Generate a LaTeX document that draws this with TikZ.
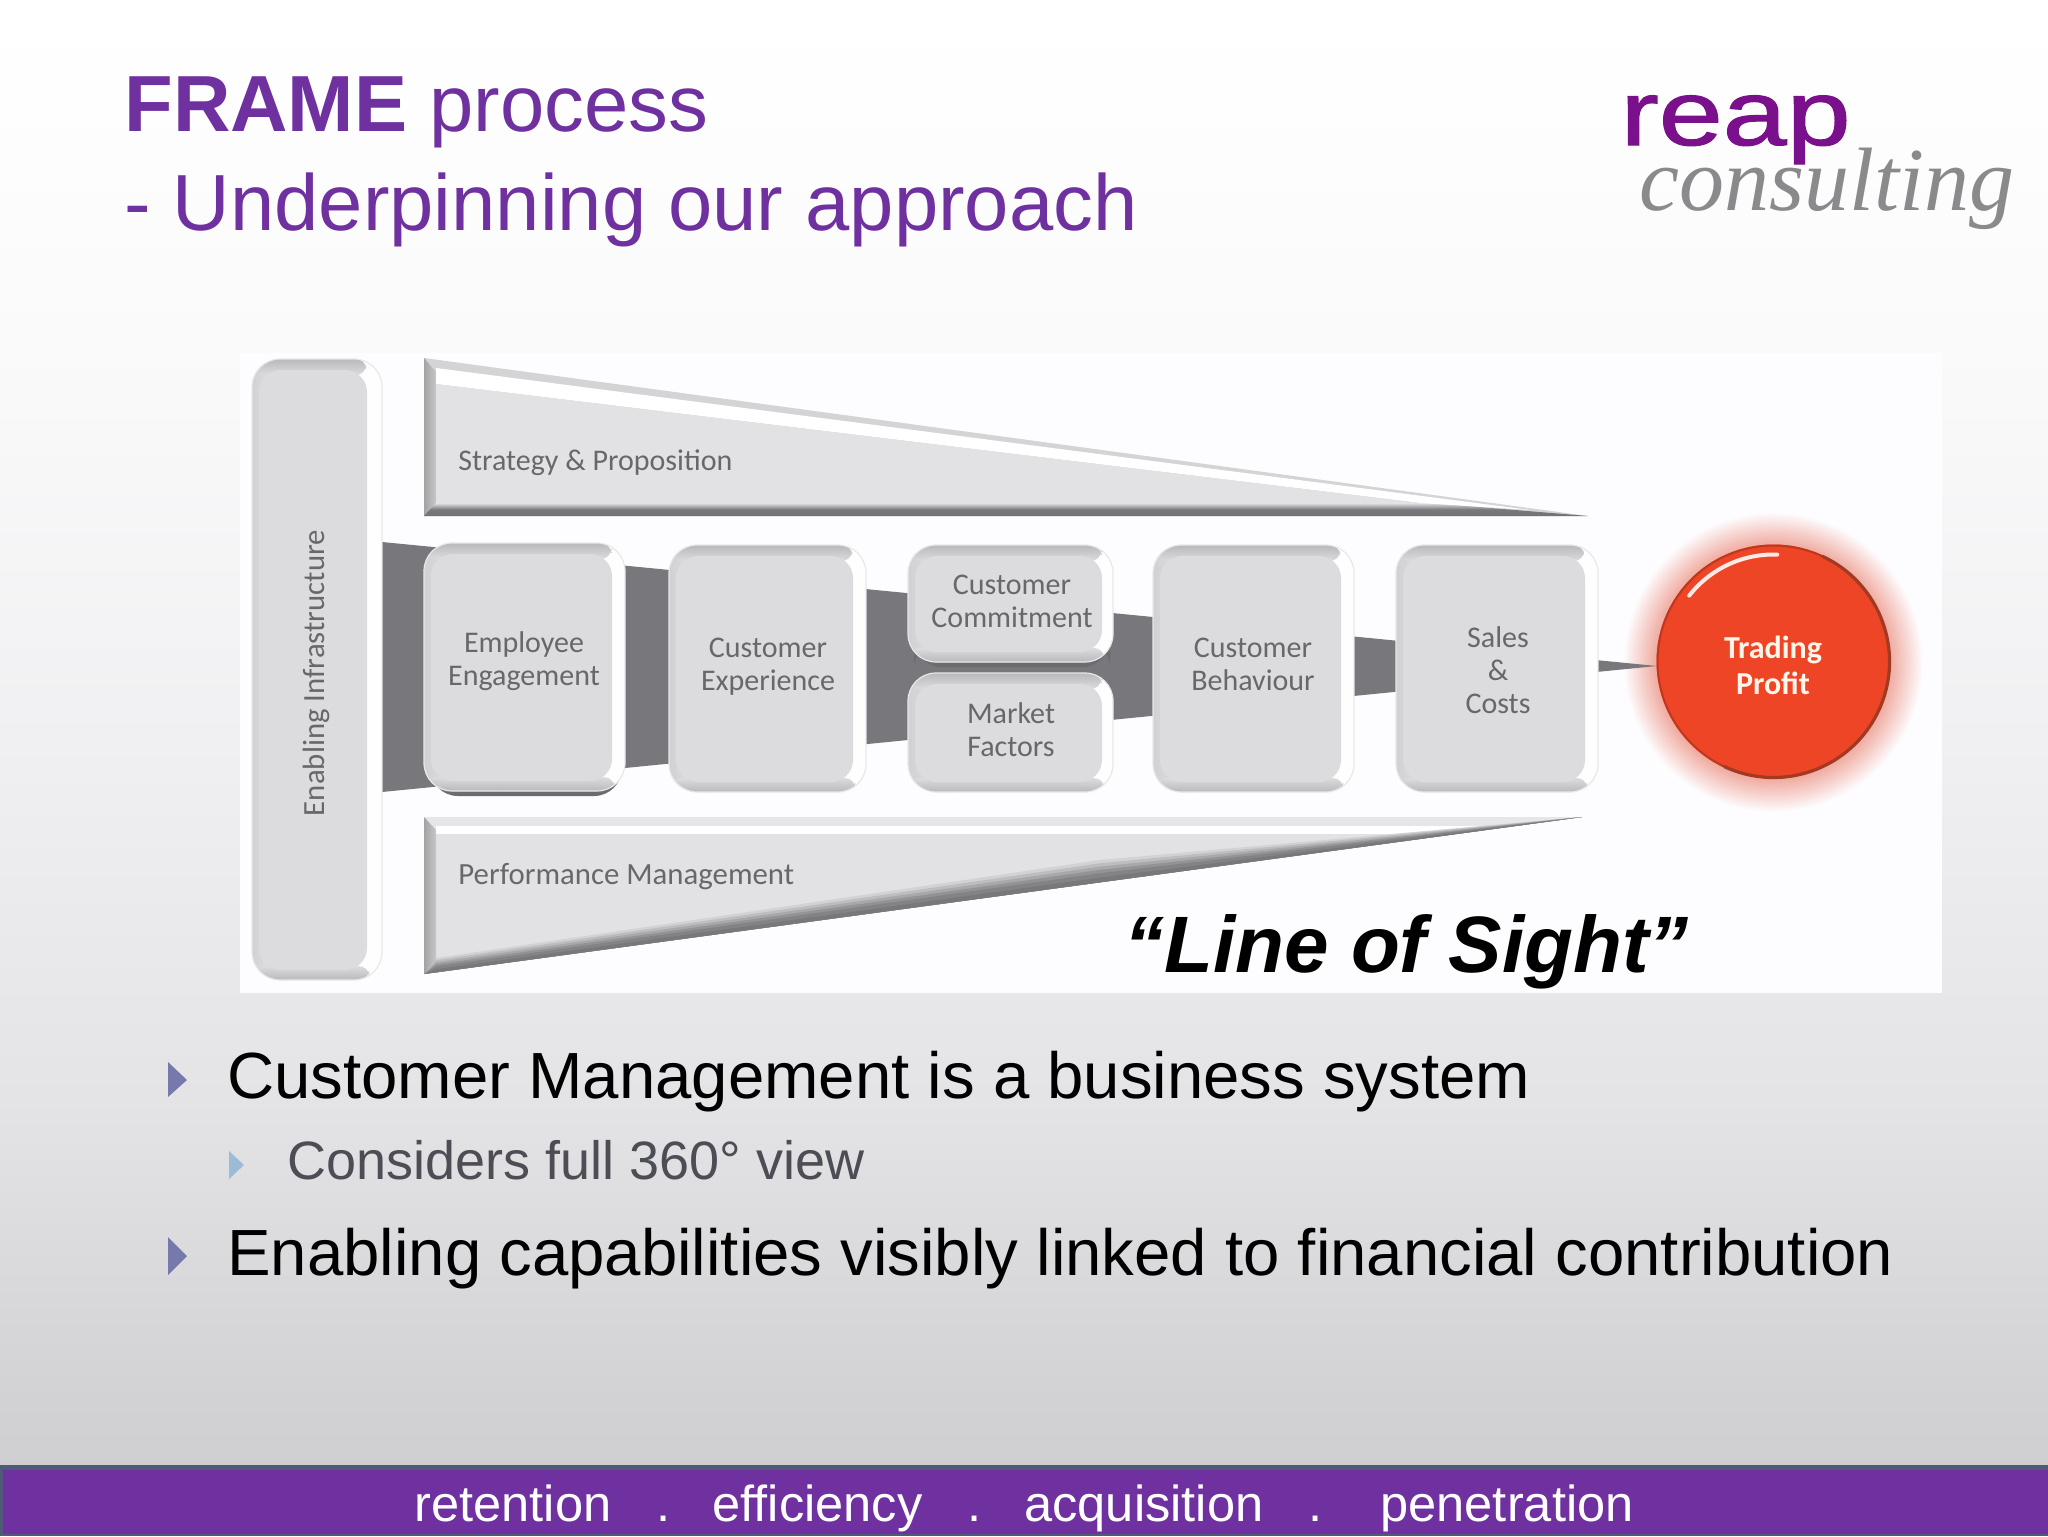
\documentclass[tikz,border=0pt]{standalone}
\usepackage{fontspec}
\setmainfont{Liberation Sans}
\newfontfamily\calfont{Carlito}
\newfontfamily\logoserif{Liberation Serif}
\newfontfamily\reapfont[FakeBold=1.2]{Liberation Sans}
\usetikzlibrary{calc}
\definecolor{bgA}{HTML}{CFCED0}\definecolor{bgB}{HTML}{D2D2D4}\definecolor{bgC}{HTML}{E4E4E6}\definecolor{bgD}{HTML}{F0F0F2}\definecolor{bgE}{HTML}{F9F9FA}\definecolor{bgF}{HTML}{FEFEFE}\definecolor{bgG}{HTML}{FFFFFF}
\definecolor{purp}{HTML}{6F30A0}
\definecolor{footedge}{HTML}{505A78}
\definecolor{panelc}{HTML}{FDFDFF}
\definecolor{funnelc}{HTML}{78787C}
\definecolor{boxface}{HTML}{DCDCDE}
\definecolor{wedgeface}{HTML}{E2E2E4}
\definecolor{labelc}{HTML}{68686C}
\definecolor{redface}{HTML}{EE4527}
\definecolor{redrim}{HTML}{A03A22}
\definecolor{glowpink}{HTML}{F0ABA0}
\definecolor{bulA}{HTML}{7579AB}
\definecolor{bulB}{HTML}{9DBBD6}
\definecolor{subtxt}{HTML}{4D4D55}
\definecolor{logop}{HTML}{7A108C}
\definecolor{logog}{HTML}{8A8A8C}
\pgfdeclareverticalshading{slidebg}{100bp}{color(0bp)=(bgA); color(25bp)=(bgA); color(27.4bp)=(bgB); color(37.6bp)=(bgC); color(49.8bp)=(bgD); color(61.4bp)=(bgE); color(71.6bp)=(bgF); color(75bp)=(bgG); color(100bp)=(bgG)}
\pgfdeclareradialshading{glowred}{\pgfpointorigin}{color(0bp)=(glowpink); color(19.5bp)=(glowpink); color(22bp)=(glowpink!55!panelc); color(25bp)=(panelc); color(50bp)=(panelc)}
\tikzset{
  lab/.style={font=\calfont\fontsize{15}{16.5}\selectfont,text=labelc,align=center,inner sep=0pt},
  head/.style={font=\fontsize{39.8}{48}\selectfont,text=purp,anchor=base west,inner sep=0pt},
  bullettxt/.style={font=\fontsize{32.65}{40}\selectfont,text=black,anchor=base west,inner sep=0pt},
  subbullettxt/.style={font=\fontsize{27}{32}\selectfont,text=subtxt,anchor=base west,inner sep=0pt},
  foot/.style={font=\fontsize{25.3}{30}\selectfont,text=white,anchor=base west,inner sep=0pt},
}
% x1 y1 x2 y2 right-inset
\newcommand{\bevelbox}[5]{%
  \begin{scope}
    \clip[rounded corners=14pt] (#1,#2) rectangle (#3,#4);
    \shade[left color=boxface!95!black,right color=white!96!boxface,middle color=white] (#1,#2) rectangle (#3,#4);
    \shade[top color=boxface!84!black,bottom color=boxface,rounded corners=5pt] ({#1+3},#2) rectangle ({#3-#5-1},{#2+16});
    \shade[top color=boxface,bottom color=boxface!84!black,rounded corners=5pt] ({#1+3},{#4-14}) rectangle ({#3-#5+2},#4);
    \fill[boxface,rounded corners=11pt] ({#1+7},{#2+11}) rectangle ({#3-#5},{#4-10});
  \end{scope}
  \draw[boxface!65!white,line width=0.6pt,rounded corners=14pt] (#1,#2) rectangle (#3,#4);}
\begin{document}
\begin{tikzpicture}[x=0.5pt,y=-0.5pt]
\useasboundingbox (0,0) rectangle (2048,1536);
% background
\shade[shading=slidebg] (0,0) rectangle (2048,1470);
% footer
\fill[footedge] (0,1465) rectangle (2048,1536);
\fill[purp] (3,1470) rectangle (2048,1534);
% title
\node[head] (t1) at (124,132) {\textbf{FRAME} process};
\node[head] (t2) at (124,230) {- Underpinning our approach};
% logo
\node[font=\reapfont\fontsize{46}{56}\selectfont,text=logop,anchor=base west,inner sep=0pt,transform shape,xscale=1.25] (reap) at (1620,145) {reap};
\node[font=\logoserif\itshape\fontsize{45}{54}\selectfont,text=logog,anchor=base west,inner sep=0pt] (consulting) at (1639,210) {consulting};
% panel
\fill[panelc] (240,353) rectangle (1942,993);
% glow
\shade[shading=glowred] (1773,662) circle (150);
% funnel
\fill[funnelc] (382,542) -- (1657,666) -- (382,792) -- cycle;
% top wedge
\fill[wedgeface!94!black] (424,358) -- (1588,516) -- (424,516) -- cycle;
\shade[left color=wedgeface!72!black,right color=wedgeface!88!black] (424,358) -- (436,372) -- (436,503) -- (424,516) -- cycle;
\shade[top color=wedgeface,bottom color=funnelc!95!black,middle color=funnelc] (424,516) -- (436,503) -- (1430,503) -- (1588,516) -- cycle;
\fill[white] (436,368) -- (1530,510) -- (1420,503) -- (436,384) -- cycle;
\fill[wedgeface] (436,384) -- (1420,503) -- (436,503) -- cycle;
% bottom wedge
\fill[wedgeface!85!white] (424,817) -- (1582,817) -- (424,974) -- cycle;
\fill[white] (436,826) -- (1520,826) -- (1400,834) -- (436,834) -- cycle;
\fill[wedgeface] (436,834) -- (1400,834) -- (436,972) -- cycle;
\foreach \f/\m in {1/15,0.85/35,0.7/55,0.55/75,0.4/90,0.2/100}{
  \fill[funnelc!\m!wedgeface] (424,974) -- (436,{972-14*\f}) -- (1100,{882-22*\f}) -- (1582,817) -- cycle;
}
\shade[left color=wedgeface!72!black,right color=wedgeface!88!black] (424,817) -- (436,830) -- (436,960) -- (424,974) -- cycle;
% enabling bar
\bevelbox{252}{359}{382}{980}{15}
% shadows
\fill[funnelc!90!black,rounded corners=14pt] (430,700) rectangle (622,796);
\fill[funnelc!90!black,rounded corners=14pt] (914,640) rectangle (1110,667);
% boxes
\bevelbox{424}{543}{625}{791}{13}
\bevelbox{669}{545}{866}{792}{13}
\bevelbox{908}{545}{1113}{662}{11}
\bevelbox{908}{673}{1113}{792}{11}
\bevelbox{1153}{545}{1354}{792}{13}
\bevelbox{1396}{545}{1598}{792}{13}
% circle
\fill[redface] (1773.5,661.5) circle (117);
\draw[redface!80!black,line width=1pt] (1773.5,661.5) circle (116);
\draw[redrim,line width=1.6pt,line cap=round] (1773.5,661.5) ++(-65:116) arc[start angle=-65,end angle=115,radius=116];
\draw[white!88!redface,line width=2pt,line cap=round] (1773.5,661.5) ++(-142:107) arc[start angle=-142,end angle=-88,radius=107];
% labels
\node[lab,rotate=90,font=\calfont\fontsize{15.4}{18}\selectfont] (enabling) at (316,673) {Enabling Infrastructure};
\node[lab,anchor=west] (strategy) at (458,463) {Strategy \& Proposition};
\node[lab,anchor=west,font=\calfont\fontsize{15.4}{18}\selectfont] (perf) at (458,877) {Performance Management};
\node[lab] (employee) at (524,661.5) {Employee\\Engagement};
\node[lab] (experience) at (768,666.5) {Customer\\Experience};
\node[lab] (commitment) at (1012,601) {Customer\\Commitment};
\node[lab] (market) at (1011,730) {Market\\Factors};
\node[lab] (behaviour) at (1253,664) {Customer\\Behaviour};
\node[lab] (sales) at (1498,670) {Sales\\\&\\Costs};
\node[lab,font=\calfont\bfseries\fontsize{16}{18}\selectfont,text=white!92!orange] (trading) at (1773,665) {Trading\\Profit};
\node[font=\bfseries\itshape\fontsize{40}{48}\selectfont,anchor=base west,inner sep=0pt] (los) at (1124,972) {“Line of Sight”};
% bullets
\fill[bulA] (168,1062) -- (187,1080) -- (168,1097) -- cycle;
\fill[bulB] (229,1151) -- (244,1165) -- (229,1179) -- cycle;
\fill[bulA] (168,1237) -- (187,1256) -- (168,1275) -- cycle;
\node[bullettxt] (b1) at (227,1098) {Customer Management is a business system};
\node[subbullettxt] (b2) at (287,1179) {Considers full 360° view};
\node[bullettxt] (b3) at (227,1275) {Enabling capabilities visibly linked to financial contribution};
% footer text
\node[foot] (f1) at (414,1521) {retention};
\node[foot] (f2) at (656,1521) {.};
\node[foot] (f3) at (712,1521) {efficiency};
\node[foot] (f4) at (967,1521) {.};
\node[foot] (f5) at (1024,1521) {acquisition};
\node[foot] (f6) at (1308,1521) {.};
\node[foot] (f7) at (1380,1521) {penetration};
\end{tikzpicture}
\end{document}
